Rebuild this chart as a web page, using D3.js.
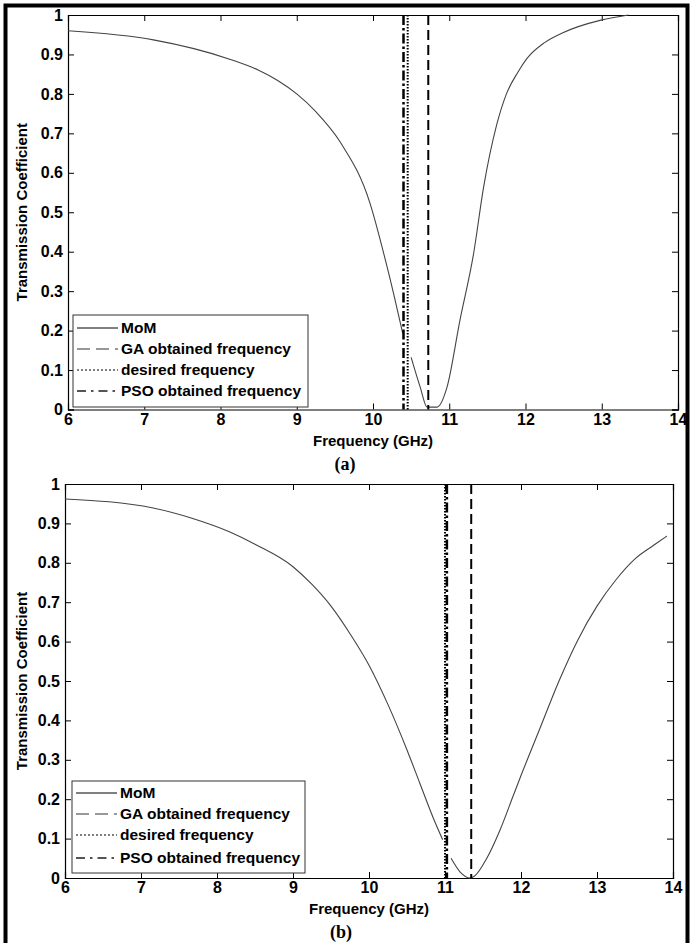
<!DOCTYPE html>
<html>
<head>
<meta charset="utf-8">
<script src="https://cdn.jsdelivr.net/npm/d3@7"></script>
<style>
  body { margin: 0; background: #fff; }
  svg text { font-family: "Liberation Sans", Arial, sans-serif; font-weight: bold; fill: #000; }
</style>
</head>
<body>
<svg id="chart" width="690" height="943"></svg>
<script>
// ---- data ----
const xTicks = [6, 7, 8, 9, 10, 11, 12, 13, 14];
const yTicks = [0, 0.1, 0.2, 0.3, 0.4, 0.5, 0.6, 0.7, 0.8, 0.9, 1];
const legendLabels = ["MoM", "GA obtained frequency", "desired frequency", "PSO obtained frequency"];

// panel (a): MoM curve, null = gap in the trace
const freqA = [6, 7.12, 8.12, 8.5, 8.75, 9.0, 9.25, 9.57, 9.96, 10.14, 10.27, 10.39, null,
  10.5, 10.62, 10.71, 10.84, 10.97, 11.14, 11.32, 11.45, 11.62, 11.75, 11.9, 12.02, 12.25, 12.49, 12.99, 13.35];
const momA = [0.96, 0.937, 0.888, 0.86, 0.834, 0.8, 0.755, 0.678, 0.523, 0.396, 0.294, 0.193, null,
  0.132, 0.056, 0.006, 0.006, 0.056, 0.226, 0.396, 0.563, 0.72, 0.8, 0.855, 0.89, 0.93, 0.955, 0.987, 1.0];
// GA, desired, PSO frequencies
const markA = [10.725, 10.455, 10.40];

// panel (b)
const freqB = [6, 7.16, 7.67, 8.17, 8.5, 9.0, 9.25, 9.5, 9.75, 10.0, 10.25, 10.5, 10.67, 10.84, 10.97, null,
  11.08, 11.2, 11.33, 11.39, 11.55, 11.72, 11.9, 12.0, 12.25, 12.5, 12.75, 13.0, 13.25, 13.5, 13.75, 13.92];
const momB = [0.962, 0.939, 0.913, 0.878, 0.847, 0.79, 0.745, 0.69, 0.62, 0.54, 0.44, 0.325, 0.24, 0.155, 0.097, null,
  0.05, 0.015, 0.0, 0.005, 0.05, 0.12, 0.21, 0.26, 0.38, 0.5, 0.605, 0.69, 0.757, 0.81, 0.845, 0.868];
const markB = [11.345, 11.0, 11.025];

const svg = d3.select("#chart");

// outer frame
svg.append("rect")
  .attr("x", 5.5).attr("y", 5.5).attr("width", 682).attr("height", 945)
  .attr("fill", "none").attr("stroke", "#000").attr("stroke-width", 4);

const markStyles = [
  { dash: "10,5", width: 2 },          // GA
  { dash: "1.5,1.5", width: 2 },       // desired
  { dash: "10,3,2.5,3", width: 2.5 }   // PSO
];
const legendStyles = [
  { color: "#000", dash: null, width: 1 },
  { color: "#777", dash: "13,6", width: 1.6 },
  { color: "#000", dash: "2,2", width: 1 },
  { color: "#555", dash: "9,5,2.5,5", width: 2.2 }
];

function drawPanel(opts) {
  const x = d3.scaleLinear().domain([6, 14]).range([opts.left, opts.right]);
  const y = d3.scaleLinear().domain([0, 1]).range([opts.bottom, opts.top]);
  const g = svg.append("g");

  // axes on all four sides, ticks inward
  g.append("g").attr("transform", `translate(0,${opts.bottom})`)
    .call(d3.axisBottom(x).tickValues(xTicks).tickSize(-6).tickPadding(4).tickFormat(d3.format("d")));
  g.append("g").attr("transform", `translate(0,${opts.top})`)
    .call(d3.axisTop(x).tickValues(xTicks).tickSize(-6).tickFormat(""));
  g.append("g").attr("transform", `translate(${opts.left},0)`)
    .call(d3.axisLeft(y).tickValues(yTicks).tickSize(-6).tickPadding(5).tickFormat(d => d === 0 || d === 1 ? d : d3.format(".1f")(d)));
  g.append("g").attr("transform", `translate(${opts.right},0)`)
    .call(d3.axisRight(y).tickValues(yTicks).tickSize(-6).tickFormat(""));

  g.selectAll(".domain").attr("stroke", "#000").attr("stroke-width", 1.2);
  g.selectAll(".tick line").attr("stroke", "#000");
  g.selectAll(".tick text").style("font-size", "16px");

  // MoM curve
  const pts = opts.freq.map((f, i) => f == null ? null : [f, opts.mom[i]]);
  g.append("path")
    .datum(pts)
    .attr("fill", "none")
    .attr("stroke", "#444")
    .attr("stroke-width", 1.1)
    .attr("d", d3.line().defined(d => d != null).x(d => x(d[0])).y(d => y(d[1])).curve(d3.curveMonotoneX));

  // vertical frequency markers
  g.selectAll(".mark")
    .data(opts.marks)
    .join("line")
    .attr("x1", d => x(d)).attr("x2", d => x(d))
    .attr("y1", opts.top).attr("y2", opts.bottom)
    .attr("stroke", "#000")
    .attr("stroke-width", (d, i) => markStyles[i].width)
    .attr("stroke-dasharray", (d, i) => markStyles[i].dash);

  // legend
  const lg = g.append("g");
  lg.append("rect")
    .attr("x", opts.legend.x).attr("y", opts.legend.y)
    .attr("width", opts.legend.w).attr("height", opts.legend.h)
    .attr("fill", "#fff").attr("stroke", "#333").attr("stroke-width", 1);
  legendLabels.forEach((label, i) => {
    const cy = opts.legend.rows[i];
    const s = legendStyles[i];
    lg.append("line")
      .attr("x1", opts.legend.x + 4).attr("x2", opts.legend.x + 45)
      .attr("y1", cy).attr("y2", cy)
      .attr("stroke", s.color).attr("stroke-width", s.width)
      .attr("stroke-dasharray", s.dash);
    lg.append("text")
      .attr("x", opts.legend.x + 48).attr("y", cy)
      .attr("dy", "0.35em")
      .style("font-size", "15.5px")
      .text(label);
  });

  // axis titles
  g.append("text")
    .attr("x", (opts.left + opts.right) / 2).attr("y", opts.bottom + 36)
    .attr("text-anchor", "middle").style("font-size", "15px")
    .text("Frequency (GHz)");
  g.append("text")
    .attr("transform", `translate(27,${(opts.top + opts.bottom) / 2}) rotate(-90)`)
    .attr("text-anchor", "middle").style("font-size", "15px")
    .text("Transmission Coefficient");
  g.append("text")
    .attr("x", (opts.left + opts.right) / 2 - 28).attr("y", opts.bottom + 60)
    .attr("text-anchor", "middle")
    .style("font-family", "'Liberation Serif', 'DejaVu Serif', serif")
    .style("font-size", "18px")
    .text(opts.tag);
}

drawPanel({
  left: 68, right: 678, top: 15, bottom: 409.5,
  freq: freqA, mom: momA, marks: markA, tag: "(a)",
  legend: { x: 73, y: 315, w: 235, h: 92, rows: [328, 349, 370, 391] }
});

drawPanel({
  left: 65, right: 673, top: 484, bottom: 878,
  freq: freqB, mom: momB, marks: markB, tag: "(b)",
  legend: { x: 72, y: 781, w: 233, h: 92, rows: [793, 814, 835, 858] }
});
</script>
</body>
</html>
